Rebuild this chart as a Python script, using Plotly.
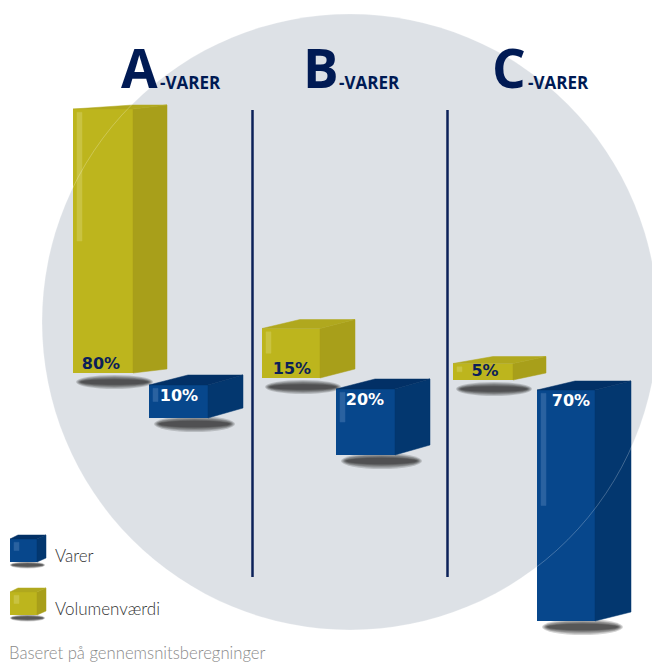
import plotly.graph_objects as go

# ---- data (percent shares) ----
groups = ["A", "B", "C"]
group_suffix = "-VARER"
volumenvaerdi = [80, 15, 5]
varer = [10, 20, 70]
legend_labels = ["Varer", "Volumenværdi"]
footnote = "Baseret på gennemsnitsberegninger"

# ---- layout geometry ----
W, H = 652, 663
PX_PER_PCT = 3.3
ZERO_PX = 380


def py(px):
    return (ZERO_PX - px) / PX_PER_PCT


YEL = dict(front="#bdb51d", side="#a89f1a", top="#b0a81e", hi="#c9c341", txt="#0c1f58")
BLU = dict(front="#07478c", side="#03376f", top="#023066", hi="#2a62a0", txt="#ffffff")

# left, width, depth, back inset, rise, baseline pixel
yel_geo = [(73, 60, 34, 60, 4, 373), (262, 58, 35, 38, 9, 378), (453, 60, 33, 40, 7, 380)]
blu_geo = [(149, 59, 35, 39, 10, 385), (336, 59, 35, 39, 10, 389), (537, 58, 36, 38, 9, 390)]
yel_label_dx = [28, 30, 32]
blu_label_dx = [30, 29, 34]

fig = go.Figure()


def poly(xs, ys, color):
    fig.add_trace(go.Scatter(x=xs + xs[:1], y=ys + ys[:1], mode="lines", fill="toself",
                             fillcolor=color, line=dict(color=color, width=0.5),
                             hoverinfo="skip", showlegend=False))


def shadow(x0, x1, yc_px, t):
    for k, op in [(1.0, 0.2), (0.85, 0.22), (0.7, 0.26), (0.55, 0.3), (0.4, 0.35)]:
        pad = (x1 - x0) * (1 - k) * 0.1
        fig.add_shape(type="circle", layer="below", xref="x", yref="y", x0=x0 + pad, x1=x1 - pad,
                      y0=py(yc_px + t * k), y1=py(yc_px - t * k), fillcolor="#2c2c2c",
                      opacity=op, line_width=0)


def cube_faces(xl, w, d, back, rise, ytop, ybot, c):
    xr = xl + w
    r = rise / PX_PER_PCT
    poly([xr, xr + d, xr + d, xr], [ytop, ytop + r, ybot + r, ybot], c["side"])
    poly([xl, xr, xr + d, xl + back], [ytop, ytop, ytop + r, ytop + r], c["top"])
    poly([xl + 4, xl + 9, xl + 9, xl + 4],
         [ytop - 1, ytop - 1, ybot + (ytop - ybot) * 0.5, ybot + (ytop - ybot) * 0.5], c["hi"])


# background disc
fig.add_shape(type="circle", layer="below", xref="x", yref="y", x0=42, x1=658,
              y0=py(630), y1=py(14), fillcolor="#dde1e6", line_width=0)
# faint disc edge showing through the bars
fig.add_shape(type="circle", layer="above", xref="x", yref="y", x0=42, x1=658,
              y0=py(630), y1=py(14), line=dict(color="rgba(255,255,255,0.3)", width=0.8))

# separators
for xs in (252.5, 447.5):
    fig.add_trace(go.Scatter(x=[xs, xs], y=[py(110), py(577)], mode="lines",
                             line=dict(color="#0b2159", width=2.5),
                             hoverinfo="skip", showlegend=False))

# front faces through the library's bar geometry
fig.add_trace(go.Bar(x=[g[0] + g[1] / 2 for g in yel_geo], y=volumenvaerdi,
                     base=[py(g[5]) for g in yel_geo], width=[g[1] for g in yel_geo],
                     marker=dict(color=YEL["front"], line_width=0),
                     name=legend_labels[1], hoverinfo="skip", showlegend=False))
fig.add_trace(go.Bar(x=[g[0] + g[1] / 2 for g in blu_geo], y=[-v for v in varer],
                     base=[py(g[5]) for g in blu_geo], width=[g[1] for g in blu_geo],
                     marker=dict(color=BLU["front"], line_width=0),
                     name=legend_labels[0], hoverinfo="skip", showlegend=False))

for v, g in zip(volumenvaerdi, yel_geo):
    xl, w, d, back, rise, base = g
    cube_faces(xl, w, d, back, rise, py(base) + v, py(base), YEL)
    shadow(xl + 3, xl + w + d - 14, base + 9, 7)
for v, g in zip(varer, blu_geo):
    xl, w, d, back, rise, base = g
    cube_faces(xl, w, d, back, rise, py(base), py(base) - v, BLU)
    shadow(xl + 5, xl + w + d - 8, base + v * PX_PER_PCT + 6, 8)

# value labels
fig.add_trace(go.Scatter(
    x=[g[0] + dx for g, dx in zip(yel_geo, yel_label_dx)], y=[py(g[5]) + 2.4 for g in yel_geo], mode="text",
    text=[f"{v}%" for v in volumenvaerdi], textposition="middle center",
    textfont=dict(family="DejaVu Sans", size=16, color=YEL["txt"], weight="bold"),
    hoverinfo="skip", showlegend=False))
fig.add_trace(go.Scatter(
    x=[g[0] + dx for g, dx in zip(blu_geo, blu_label_dx)], y=[py(g[5]) - 3.6 for g in blu_geo], mode="text",
    text=[f"{v}%" for v in varer], textposition="middle center",
    textfont=dict(family="DejaVu Sans", size=16, color=BLU["txt"], weight="bold"),
    hoverinfo="skip", showlegend=False))

# legend swatches
for c, top in ((BLU, 539), (YEL, 592)):
    cube_faces(10, 27, 9, 8, 4, py(top), py(top + 23), c)
    fig.add_trace(go.Bar(x=[23.5], y=[23 / PX_PER_PCT], base=[py(top + 23)], width=[27],
                         marker=dict(color=c["front"], line_width=0),
                         hoverinfo="skip", showlegend=False))
    shadow(10, 45, top + 26, 3.5)

ann = []
title_x = [119, 301, 490]
suffix_x = [158, 337, 526]
for g, tx, sx in zip(groups, title_x, suffix_x):
    ann.append(dict(x=tx, y=py(67), text=f"<b>{g}</b>", xanchor="left", yanchor="middle",
                    font=dict(family="Open Sans", size=53, color="#001a54")))
    ann.append(dict(x=sx, y=py(82), text=f"<b>{group_suffix}</b>", xanchor="left", yanchor="middle",
                    font=dict(family="Open Sans", size=17, color="#001a54")))
ann.append(dict(x=53, y=py(555), text=legend_labels[0], xanchor="left", yanchor="middle",
                font=dict(family="Lato Light, Lato", size=17, color="#333333")))
ann.append(dict(x=53, y=py(608), text=legend_labels[1], xanchor="left", yanchor="middle",
                font=dict(family="Lato Light, Lato", size=17, color="#333333")))
ann.append(dict(x=7, y=py(653), text=footnote, xanchor="left", yanchor="middle",
                font=dict(family="Lato Light, Lato", size=16.7, color="#8a8a8a")))
for a in ann:
    a.update(xref="x", yref="y", showarrow=False)

fig.update_layout(
    width=W, height=H, margin=dict(l=0, r=0, t=0, b=0),
    paper_bgcolor="#ffffff", plot_bgcolor="rgba(0,0,0,0)",
    barmode="overlay", annotations=ann, showlegend=False,
    xaxis=dict(range=[0, W], visible=False, fixedrange=True),
    yaxis=dict(range=[py(H), py(0)], visible=False, fixedrange=True),
)
fig.write_html("out.html", config=dict(displayModeBar=False),
               post_script="document.body.style.margin='0';document.body.style.overflow='hidden';")
